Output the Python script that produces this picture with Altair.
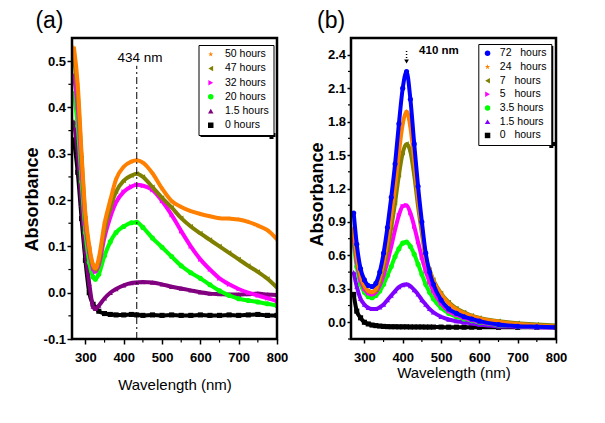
import altair as alt
import pandas as pd

FONT = "Liberation Sans"

# ---------------- Panel (a) data ----------------
WL_A = [270, 280, 290, 300, 310, 320, 326, 335, 350, 365, 380, 400, 420, 434,
        450, 475, 500, 525, 550, 575, 600, 625, 650, 675, 700, 725, 750, 775, 800]
A_50 = [0.53, 0.45, 0.30, 0.17, 0.10, 0.06, 0.052, 0.075, 0.15, 0.20, 0.245, 0.272, 0.283, 0.286,
        0.281, 0.258, 0.225, 0.198, 0.185, 0.176, 0.170, 0.165, 0.161, 0.160, 0.158, 0.153, 0.145, 0.135, 0.115]
A_47 = [0.51, 0.43, 0.29, 0.16, 0.095, 0.058, 0.05, 0.068, 0.135, 0.183, 0.218, 0.242, 0.253, 0.257,
        0.25, 0.228, 0.205, 0.184, 0.161, 0.143, 0.128, 0.114, 0.100, 0.086, 0.072, 0.058, 0.045, 0.030, 0.011]
A_32 = [0.47, 0.40, 0.27, 0.15, 0.088, 0.052, 0.045, 0.06, 0.12, 0.163, 0.195, 0.218, 0.229, 0.233,
        0.231, 0.222, 0.198, 0.168, 0.133, 0.100, 0.072, 0.050, 0.031, 0.018, 0.008, 0.0, -0.006, -0.012, -0.018]
A_20 = [0.43, 0.36, 0.24, 0.13, 0.066, 0.034, 0.029, 0.04, 0.08, 0.11, 0.13, 0.143, 0.151, 0.152,
        0.141, 0.118, 0.098, 0.078, 0.058, 0.043, 0.031, 0.017, 0.004, -0.006, -0.013, -0.017, -0.020, -0.024, -0.028]
A_1_5 = [0.37, 0.30, 0.19, 0.09, 0.02, -0.03, -0.035, -0.028, -0.012, 0.0, 0.008, 0.016, 0.021, 0.022,
         0.023, 0.022, 0.018, 0.013, 0.009, 0.005, 0.001, -0.002, -0.003, -0.004, -0.004, -0.003, -0.002, -0.004, -0.005]
A_0 = [0.33, 0.26, 0.16, 0.07, 0.0, -0.025, -0.032, -0.04, -0.045, -0.047, -0.048, -0.048, -0.047, -0.048,
       -0.049, -0.048, -0.049, -0.048, -0.049, -0.049, -0.048, -0.049, -0.049, -0.048, -0.049, -0.048, -0.047, -0.049, -0.049]

SERIES_A = ["\u200850 hours", "\u200847 hours", "\u200832 hours", "\u200820 hours",
            "1.5 hours", "\u2007\u20080 hours"]
VALUES_A = [A_50, A_47, A_32, A_20, A_1_5, A_0]
COLORS_A = ["#FF8000", "#808000", "#FF00FF", "#00FF00", "#800080", "#000000"]

# ---------------- Panel (b) data ----------------
WL_B = [272, 280, 290, 300, 310, 320, 330, 340, 350, 360, 370, 380, 390, 400, 410, 420,
        430, 440, 450, 460, 470, 480, 500, 520, 540, 560, 580, 600, 650, 700, 750, 800]
B_72 = [0.98, 0.70, 0.48, 0.38, 0.33, 0.32, 0.35, 0.45, 0.62, 0.85, 1.12, 1.42, 1.78, 2.10, 2.25, 2.00,
        1.60, 1.22, 0.90, 0.62, 0.45, 0.34, 0.20, 0.12, 0.08, 0.05, 0.03, 0.01, -0.02, -0.035, -0.04, -0.045]
B_24 = [0.85, 0.60, 0.42, 0.33, 0.28, 0.27, 0.30, 0.40, 0.54, 0.73, 0.96, 1.22, 1.52, 1.78, 1.89, 1.75,
        1.45, 1.12, 0.84, 0.58, 0.46, 0.37, 0.25, 0.17, 0.115, 0.08, 0.055, 0.035, 0.005, -0.015, -0.028, -0.038]
B_7 = [0.82, 0.58, 0.41, 0.32, 0.28, 0.27, 0.29, 0.37, 0.49, 0.65, 0.85, 1.07, 1.32, 1.52, 1.60, 1.53,
       1.32, 1.04, 0.80, 0.58, 0.47, 0.38, 0.26, 0.18, 0.125, 0.09, 0.06, 0.04, 0.01, -0.008, -0.02, -0.03]
B_5 = [0.75, 0.55, 0.38, 0.30, 0.26, 0.25, 0.27, 0.33, 0.42, 0.54, 0.68, 0.83, 0.96, 1.04, 1.05, 0.98,
       0.86, 0.72, 0.58, 0.46, 0.36, 0.28, 0.17, 0.10, 0.065, 0.04, 0.02, 0.005, -0.02, -0.035, -0.04, -0.045]
B_3_5 = [0.70, 0.50, 0.34, 0.27, 0.23, 0.22, 0.24, 0.28, 0.34, 0.42, 0.50, 0.59, 0.66, 0.71, 0.72, 0.68,
         0.61, 0.52, 0.43, 0.34, 0.27, 0.21, 0.13, 0.08, 0.05, 0.03, 0.015, 0.0, -0.025, -0.035, -0.04, -0.045]
B_1_5 = [0.45, 0.32, 0.21, 0.16, 0.13, 0.12, 0.12, 0.135, 0.16, 0.20, 0.24, 0.28, 0.315, 0.335, 0.34, 0.325,
         0.29, 0.25, 0.20, 0.16, 0.12, 0.09, 0.05, 0.025, 0.01, 0.0, -0.01, -0.02, -0.035, -0.04, -0.045, -0.05]
B_0 = [0.25, 0.10, 0.04, 0.0, -0.015, -0.025, -0.03, -0.034, -0.037, -0.039, -0.04, -0.04, -0.041, -0.041, -0.041, -0.042,
       -0.042, -0.042, -0.042, -0.043, -0.043, -0.043, -0.043, -0.044, -0.044, -0.044, -0.044, -0.045, -0.045, -0.045, -0.045, -0.045]

SERIES_B = ["72 \u2007hours", "24 \u2007hours", "\u20077 \u2007hours", "\u20075 \u2007hours",
            "\u20083.5 hours", "\u20081.5 hours", "\u20070 \u2007hours"]
VALUES_B = [B_72, B_24, B_7, B_5, B_3_5, B_1_5, B_0]
COLORS_B = ["#0000FF", "#FF8000", "#808000", "#FF00FF", "#00FF00", "#8000FF", "#000000"]

STAR = ("M0,-1L0.2245,-0.309L0.9511,-0.309L0.3633,0.118L0.5878,0.809L0,0.382"
        "L-0.5878,0.809L-0.3633,0.118L-0.9511,-0.309L-0.2245,-0.309Z")
SHAPES_A = [STAR, "triangle-left", "triangle-right", "circle", "triangle-up", "square"]
SHAPES_B = ["circle", STAR, "triangle-left", "triangle-right", "circle", "triangle-up", "square"]

X_DOMAIN = [265, 800]
Y_DOMAIN_A = [-0.1, 0.55]
Y_DOMAIN_B = [-0.15, 2.55]
X_TICKS = [300, 400, 500, 600, 700, 800]
X_MINOR = [350, 450, 550, 650, 750]
Y_TICKS_A = [-0.1, 0.0, 0.1, 0.2, 0.3, 0.4, 0.5]
Y_MINOR_A = [-0.05, 0.05, 0.15, 0.25, 0.35, 0.45]
Y_TICKS_B = [0.0, 0.3, 0.6, 0.9, 1.2, 1.5, 1.8, 2.1, 2.4]
Y_MINOR_B = [-0.15, 0.15, 0.45, 0.75, 1.05, 1.35, 1.65, 1.95, 2.25]

# annotations
ANN_A_RULE = {"wl": [434], "val": [-0.1], "val2": [0.49]}
ANN_A_TEXT = {"wl": [442.6], "val": [0.506], "label": ["434 nm"]}
ANN_B_RULE = {"wl": [410], "val": [2.37], "val2": [2.45]}
ANN_B_ARROW = {"wl": [410], "val": [2.34]}
ANN_B_TEXT = {"wl": [442.7], "val": [2.43], "label": ["410 nm"]}

PW, PH = 205, 301


def long_df(wl, series, values):
    rows = []
    for s, vals in zip(series, values):
        for w, v in zip(wl, vals):
            rows.append({"wl": w, "val": v, "series": s})
    return pd.DataFrame(rows)


def px_to_data(px, py, ydom):
    """pixel offset inside the plot -> data units (used only for decorations)"""
    wl = X_DOMAIN[0] + px * (X_DOMAIN[1] - X_DOMAIN[0]) / PW
    val = ydom[1] - py * (ydom[1] - ydom[0]) / PH
    return wl, val


def segments_chart(segs, width):
    rows = []
    for k, seg in enumerate(segs):
        for i, (w, v) in enumerate(seg):
            rows.append({"wl": w, "val": v, "seg": k, "i": i})
    return alt.Chart(pd.DataFrame(rows)).mark_line(
        color="black", strokeWidth=width, strokeCap="square", strokeJoin="miter").encode(
        x="wl:Q", y="val:Q", detail="seg:N", order="i:Q")


def decorations(ydom, box, minor_y, minor_len):
    x0, x1 = X_DOMAIN
    y0, y1 = ydom
    frame = segments_chart([[(x0, y0), (x0, y1), (x1, y1), (x1, y0), (x0, y0)]], 2.5)
    lx, ly, lw, lh = box
    shadow = segments_chart([
        [px_to_data(lx + lw + 2, ly + 4, ydom), px_to_data(lx + lw + 2, ly + lh + 4, ydom)],
        [px_to_data(lx + 4, ly + lh + 2, ydom), px_to_data(lx + lw + 4, ly + lh + 2, ydom)],
    ], 4)
    dx_len = minor_len * (x1 - x0) / PW
    dy_len = minor_len * (y1 - y0) / PH
    ticks = [[(w, y0), (w, y0 - dy_len)] for w in X_MINOR]
    ticks += [[(x0, v), (x0 - dx_len, v)] for v in minor_y]
    minor = segments_chart(ticks, 1.2)
    return frame, shadow, minor


def panel(df, series, colors, shapes, ydom, yticks, minor_y, tick_size, x_title_y,
          y_title_x, y_title_y, legend_box, row_pad, label_offset, sym_offset):
    xaxis = alt.Axis(values=X_TICKS, tickCount=30, title="Wavelength (nm)", titleFontSize=15,
                     titleFontWeight="normal", titleFont=FONT, titleBaseline="alphabetic",
                     titleY=x_title_y, labelFont=FONT, labelFontSize=13, labelFontWeight="bold",
                     labelColor="black", labelBaseline="alphabetic", labelPadding=22 - tick_size,
                     labelFlush=False, labelOverlap=False, tickSize=tick_size, tickWidth=1.5,
                     tickColor="black", domain=False, grid=False, titleColor="black")
    yaxis = alt.Axis(values=yticks, tickCount=30, format=".1f",
                     labelExpr="replace(datum.label, '\u2212', '-')",
                     title="Absorbance", titleFontSize=18, titleFontWeight="bold",
                     titleFont=FONT, titleBaseline="alphabetic", titleX=y_title_x, titleY=y_title_y,
                     titleColor="black", labelFont=FONT, labelFontSize=13, labelFontWeight="bold",
                     labelColor="black", labelPadding=1.5, labelFlush=False, labelOverlap=False,
                     tickSize=tick_size, tickWidth=1.5, tickColor="black", domain=False, grid=False)
    xs = alt.X("wl:Q", scale=alt.Scale(domain=X_DOMAIN, nice=False, zero=False), axis=xaxis)
    ys = alt.Y("val:Q", scale=alt.Scale(domain=ydom, nice=False, zero=False), axis=yaxis)
    lx, ly, lw, lh = legend_box
    legend = alt.Legend(title=None, orient="none", legendX=lx, legendY=ly,
                        strokeColor="black", fillColor="white", padding=4, cornerRadius=0,
                        labelFont=FONT, labelFontSize=10.5, labelColor="black",
                        symbolSize=30, symbolStrokeWidth=0, rowPadding=row_pad,
                        labelOffset=label_offset, symbolOffset=sym_offset)
    col = alt.Color("series:N", scale=alt.Scale(domain=series, range=colors), legend=legend)
    shp = alt.Shape("series:N", scale=alt.Scale(domain=series, range=shapes), legend=legend)

    frame, shadow, minor = decorations(ydom, legend_box, minor_y, tick_size * 0.6)
    base = alt.Chart(df)
    layers = [shadow, minor]
    for s, c in reversed(list(zip(series, colors))):
        sub = base.transform_filter(alt.FieldEqualPredicate(field="series", equal=s))
        layers.append(sub.mark_line(strokeWidth=4, interpolate="monotone", clip=True).encode(
            x=xs, y=ys, color=alt.value(c)))
        layers.append(sub.mark_point(filled=True, size=26, opacity=1, clip=True).encode(
            x=xs, y=ys, color=col, shape=shp))
    return layers, frame


df_a = long_df(WL_A, SERIES_A, VALUES_A)
df_b = long_df(WL_B, SERIES_B, VALUES_B)

layers_a, frame_a = panel(df_a, SERIES_A, COLORS_A, SHAPES_A, Y_DOMAIN_A, Y_TICKS_A, Y_MINOR_A, 5, 50,
                          -35, 161, (126.5, 7, 71, 88), 3.2, 9, 3)
layers_a.append(alt.Chart(pd.DataFrame(ANN_A_RULE)).mark_rule(
    color="black", strokeWidth=1, strokeDash=[7, 3, 2, 3]).encode(x="wl:Q", y="val:Q", y2="val2:Q"))
layers_a.append(alt.Chart(pd.DataFrame(ANN_A_TEXT)).mark_text(
    font=FONT, fontSize=13.5, color="black", align="center", baseline="middle").encode(
    x="wl:Q", y="val:Q", text="label:N"))
layers_a.append(frame_a)

layers_b, frame_b = panel(df_b, SERIES_B, COLORS_B, SHAPES_B, Y_DOMAIN_B, Y_TICKS_B, Y_MINOR_B, 4, 38.5,
                          -29, 156, (127.3, 6, 71, 98), 2.7, 7, 0)
layers_b.append(alt.Chart(pd.DataFrame(ANN_B_RULE)).mark_rule(
    color="black", strokeWidth=1.5, strokeDash=[1, 2]).encode(x="wl:Q", y="val:Q", y2="val2:Q"))
layers_b.append(alt.Chart(pd.DataFrame(ANN_B_ARROW)).mark_point(
    shape="triangle-down", filled=True, color="black", size=22, opacity=1).encode(x="wl:Q", y="val:Q"))
layers_b.append(alt.Chart(pd.DataFrame(ANN_B_TEXT)).mark_text(
    font=FONT, fontSize=11.5, fontWeight="bold", color="black", align="left", baseline="middle").encode(
    x="wl:Q", y="val:Q", text="label:N"))
layers_b.append(frame_b)


def titled(layers, text, dx):
    return alt.layer(*layers).properties(
        width=PW, height=PH,
        title=alt.TitleParams(text, anchor="start", frame="group", fontSize=23, fontWeight="normal",
                              font=FONT, color="black", dx=dx, offset=0))


pa = titled(layers_a, "(a)", -36.6)
pb = titled(layers_b, "(b)", -34)

chart = alt.hconcat(pa, pb, spacing=20).resolve_scale(
    color="independent", shape="independent").properties(
    padding={"left": 15, "top": 2, "right": 5, "bottom": 5}, background="white"
).configure_view(stroke=None)

chart.save("out.html", embed_options={"renderer": "svg", "actions": False})
